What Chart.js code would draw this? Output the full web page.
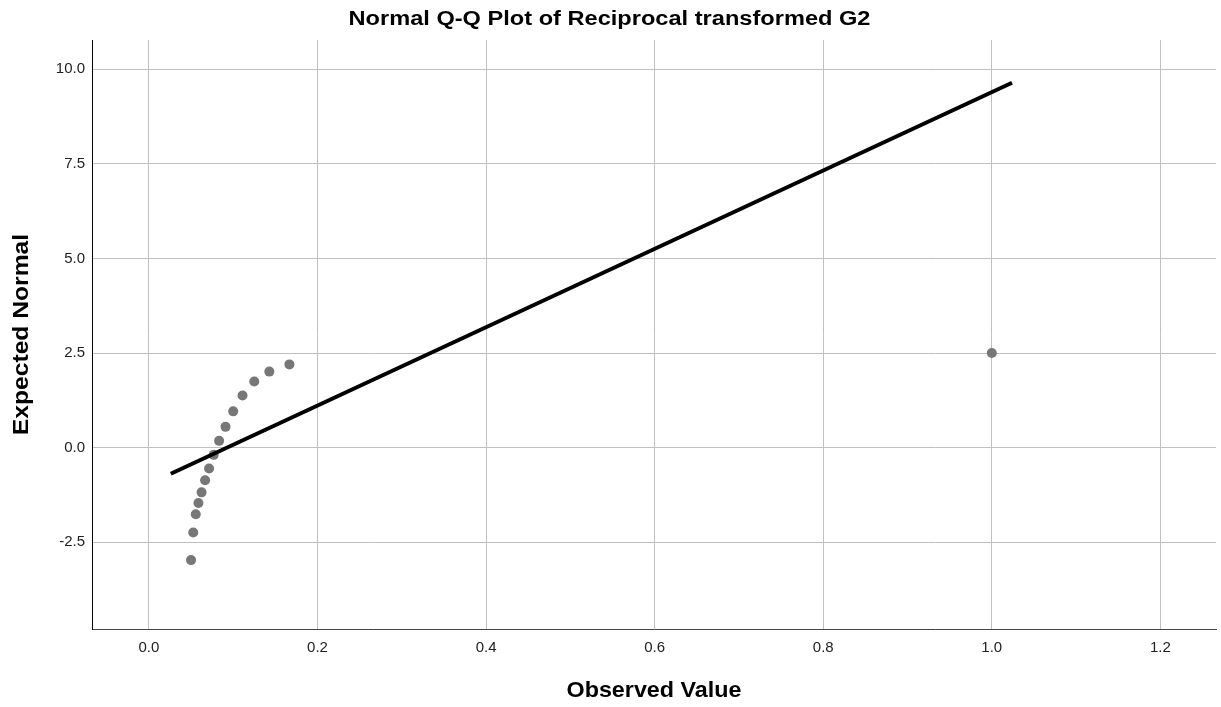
<!DOCTYPE html>
<html>
<head>
<meta charset="utf-8">
<script src="https://cdn.jsdelivr.net/npm/chart.js@4.4.1/dist/chart.umd.min.js"></script>
<style>
  html, body { margin: 0; padding: 0; background: #ffffff; }
  #wrap { width: 1221px; height: 707px; position: relative; }
</style>
</head>
<body>
<div id="wrap"><canvas id="c" width="1221" height="707"></canvas></div>
<script>
// ---- Data ----
const chartTitle = "Normal Q-Q Plot of Reciprocal transformed G2";
const xAxisTitle = "Observed Value";
const yAxisTitle = "Expected Normal";

const observedValues = [0.0500, 0.0526, 0.0556, 0.0588, 0.0625, 0.0667, 0.0714, 0.0769,
                        0.0833, 0.0909, 0.1000, 0.1111, 0.1250, 0.1429, 0.1667, 1.0000];
const expectedNormal = [-2.97, -2.24, -1.76, -1.46, -1.18, -0.86, -0.55, -0.19,
                        0.18, 0.55, 0.96, 1.38, 1.75, 2.01, 2.20, 2.50];

const refLineX = [0.026, 1.024];
const refLineY = [-0.69, 9.64];

const xTicks = [0.0, 0.2, 0.4, 0.6, 0.8, 1.0, 1.2];
const yTicks = [-2.5, 0.0, 2.5, 5.0, 7.5, 10.0];

const xRange = [-0.0675, 1.266];
const yRange = [-4.79, 10.77];

// ---- The reference draws its bold titles with wide glyphs: stretch them horizontally ----
const titleStretch = {};
titleStretch[chartTitle] = 1.18;
titleStretch[yAxisTitle] = 1.12;
titleStretch[xAxisTitle] = 1.06;
(function () {
  const proto = CanvasRenderingContext2D.prototype;
  const origFill = proto.fillText;
  proto.fillText = function (t, x, y, m) {
    const sx = titleStretch[t];
    if (sx) {
      this.save();
      this.translate(x, y);
      this.scale(sx, 1);
      origFill.call(this, t, 0, 0);
      this.restore();
      return;
    }
    if (m === undefined) origFill.call(this, t, x, y); else origFill.call(this, t, x, y, m);
  };
})();

// ---- Build datasets ----
const points = observedValues.map((x, i) => ({ x: x, y: expectedNormal[i] }));
const linePts = refLineX.map((x, i) => ({ x: x, y: refLineY[i] }));

const FONT = "'Liberation Sans', Arial, Helvetica, sans-serif";

new Chart(document.getElementById('c'), {
  type: 'scatter',
  data: {
    datasets: [
      {
        type: 'line',
        data: linePts,
        borderColor: '#000000',
        borderWidth: 4,
        pointRadius: 0,
        fill: false,
        order: 0
      },
      {
        type: 'scatter',
        data: points,
        backgroundColor: '#777777',
        borderColor: '#777777',
        borderWidth: 0,
        pointRadius: 5,
        order: 1
      }
    ]
  },
  options: {
    responsive: false,
    animation: false,
    layout: { padding: { left: 0, right: 2, top: 0, bottom: 0 } },
    plugins: {
      legend: { display: false },
      tooltip: { enabled: false },
      title: {
        display: true,
        text: chartTitle,
        color: '#000000',
        font: { family: FONT, size: 20, weight: 'bold', lineHeight: 1.2 },
        padding: { top: 7.7, bottom: 8.3 }
      }
    },
    scales: {
      x: {
        type: 'linear',
        min: xRange[0],
        max: xRange[1],
        afterBuildTicks: (s) => { s.ticks = xTicks.map(v => ({ value: v })); },
        afterFit: (s) => { s.height = 78; },
        ticks: {
          color: '#222222',
          font: { family: FONT, size: 15 },
          padding: 10,
          maxRotation: 0,
          callback: (v) => Number(v).toFixed(1)
        },
        grid: { color: '#c0c0c0', lineWidth: 1, drawTicks: false },
        border: { display: true, color: '#444444', width: 1 },
        title: {
          display: true,
          text: xAxisTitle,
          color: '#000000',
          font: { family: FONT, size: 22, weight: 'bold', lineHeight: 1.2 },
          padding: { top: 0, bottom: 2.5 }
        }
      },
      y: {
        type: 'linear',
        min: yRange[0],
        max: yRange[1],
        afterBuildTicks: (s) => { s.ticks = yTicks.map(v => ({ value: v })); },
        afterFit: (s) => { s.width = 92; },
        ticks: {
          color: '#222222',
          font: { family: FONT, size: 15 },
          padding: 7,
          callback: (v) => Number(v).toFixed(1)
        },
        grid: { color: '#c0c0c0', lineWidth: 1, drawTicks: false },
        border: { display: true, color: '#000000', width: 1 },
        title: {
          display: true,
          text: yAxisTitle,
          color: '#000000',
          font: { family: FONT, size: 22, weight: 'bold', lineHeight: 1.2 },
          padding: { top: 8.5, bottom: 0 }
        }
      }
    }
  }
});
</script>
</body>
</html>
